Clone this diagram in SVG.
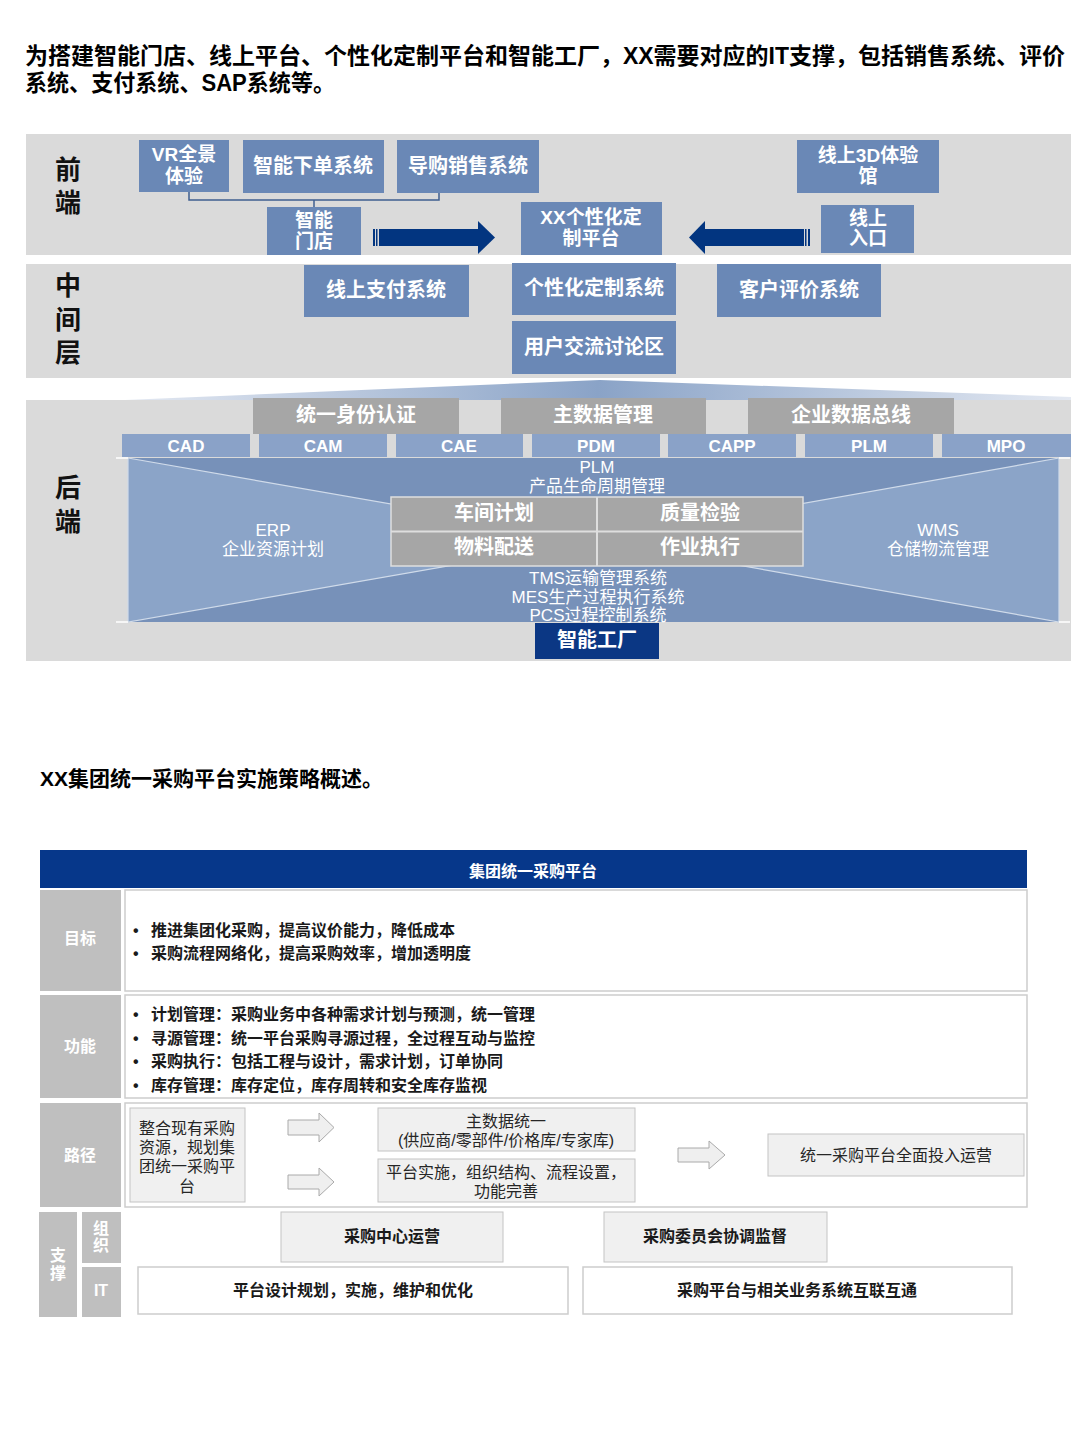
<svg xmlns="http://www.w3.org/2000/svg" width="1080" height="1440" viewBox="0 0 1080 1440">
<defs>
<style>
text{font-family:'Liberation Sans','Noto Sans CJK SC',sans-serif;}
.band{fill:#dadada;}
.nb{fill:#6a88b6;}
.wt{fill:#ffffff;font-weight:bold;text-anchor:middle;dominant-baseline:central;font-size:20px;}
.wt19{fill:#ffffff;font-weight:bold;text-anchor:middle;dominant-baseline:central;font-size:19px;}
.side{fill:#111;font-weight:bold;text-anchor:middle;dominant-baseline:central;font-size:26px;}
.hdr{fill:#a6a6a6;}
.sm{fill:#8aa2c8;}
.smt{fill:#fff;font-weight:bold;text-anchor:middle;dominant-baseline:central;font-size:17px;}
.lt{fill:#fff;text-anchor:middle;dominant-baseline:central;font-size:17px;}
.arr{fill:#023580;}
.lab{fill:#bfbfbf;}
.labt{fill:#fff;font-weight:bold;text-anchor:middle;dominant-baseline:central;font-size:16px;}
.cell{fill:#fff;stroke:#cdcdcd;stroke-width:1.5;}
.gbox{fill:#f0f0f0;stroke:#c4c4c4;stroke-width:1;}
.tb{fill:#1a1a1a;font-weight:bold;font-size:16px;dominant-baseline:central;}
.tr{fill:#262626;font-size:16px;text-anchor:middle;dominant-baseline:central;}
.tbc{fill:#1a1a1a;font-weight:bold;font-size:16px;text-anchor:middle;dominant-baseline:central;}
.garr{fill:#efefef;stroke:#aaaaaa;stroke-width:1;}
</style>
<linearGradient id="roof" x1="0" y1="0" x2="1" y2="0">
<stop offset="0" stop-color="#e4e9f2"/>
<stop offset="0.5" stop-color="#8aa3c7"/>
<stop offset="1" stop-color="#e4e9f2"/>
</linearGradient>
</defs>
<rect width="1080" height="1440" fill="#ffffff"/>

<g id="title">
<text x="25" y="64" font-size="23" font-weight="bold" fill="#000" textLength="1040" lengthAdjust="spacingAndGlyphs">为搭建智能门店、线上平台、个性化定制平台和智能工厂，XX需要对应的IT支撑，包括销售系统、评价</text>
<text x="25" y="91" font-size="23" font-weight="bold" fill="#000" textLength="310" lengthAdjust="spacingAndGlyphs">系统、支付系统、SAP系统等。</text>
</g>

<g id="bands">
<rect class="band" x="26" y="134" width="1045" height="121"/>
<rect class="band" x="26" y="264" width="1045" height="114"/>
<polygon points="125,400 600,380 1071,397 1071,400" fill="url(#roof)"/>
<rect class="band" x="26" y="400" width="1045" height="261"/>
<text class="side" x="68" y="170">前</text>
<text class="side" x="68" y="203">端</text>
<text class="side" x="68" y="286">中</text>
<text class="side" x="68" y="320">间</text>
<text class="side" x="68" y="353">层</text>
<text class="side" x="68" y="488">后</text>
<text class="side" x="68" y="522">端</text>
</g>

<g id="node-vr"><rect class="nb" x="139" y="140" width="90" height="52"/><text class="wt19" x="184" y="154">VR全景</text><text class="wt19" x="184" y="176">体验</text></g>
<g id="node-order"><rect class="nb" x="243" y="140" width="141" height="53"/><text class="wt" x="313" y="166">智能下单系统</text></g>
<g id="node-guide"><rect class="nb" x="397" y="140" width="142" height="53"/><text class="wt" x="468" y="166">导购销售系统</text></g>
<g id="node-store"><rect class="nb" x="267" y="207" width="94" height="48"/><text class="wt19" x="314" y="220">智能</text><text class="wt19" x="314" y="241">门店</text></g>
<g id="node-platform"><rect class="nb" x="521" y="202" width="141" height="53"/><text class="wt19" x="591" y="217">XX个性化定</text><text class="wt19" x="591" y="238">制平台</text></g>
<g id="node-3d"><rect class="nb" x="797" y="140" width="142" height="53"/><text class="wt19" x="868" y="155">线上3D体验</text><text class="wt19" x="868" y="176">馆</text></g>
<g id="node-entry"><rect class="nb" x="821" y="205" width="93" height="48"/><text class="wt19" x="868" y="218">线上</text><text class="wt19" x="868" y="238">入口</text></g>

<g id="node-pay"><rect class="nb" x="304" y="265" width="165" height="52"/><text class="wt" x="386" y="290">线上支付系统</text></g>
<g id="node-custom"><rect class="nb" x="512" y="263" width="164" height="52"/><text class="wt" x="594" y="288">个性化定制系统</text></g>
<g id="node-forum"><rect class="nb" x="512" y="321" width="164" height="53"/><text class="wt" x="594" y="347">用户交流讨论区</text></g>
<g id="node-review"><rect class="nb" x="717" y="264" width="164" height="53"/><text class="wt" x="799" y="290">客户评价系统</text></g>

<g id="connectors">
<polyline points="189,192 189,200 439,200 439,193" fill="none" stroke="#3f5f90" stroke-width="1.5"/>
<line x1="314" y1="200" x2="314" y2="207" stroke="#3f5f90" stroke-width="1.5"/>
<rect class="arr" x="373" y="229" width="2" height="17"/>
<rect class="arr" x="376" y="229" width="1.5" height="17"/>
<rect class="arr" x="379" y="229" width="100" height="17"/>
<polygon class="arr" points="478,221 495,237.5 478,254"/>
<rect class="arr" x="808" y="229" width="2" height="17"/>
<rect class="arr" x="805" y="229" width="1.5" height="17"/>
<rect class="arr" x="704" y="229" width="100" height="17"/>
<polygon class="arr" points="705,221 689,237.5 705,254"/>
</g>

<g id="node-idauth"><rect class="hdr" x="253" y="398" width="206" height="36"/><text class="wt" x="356" y="415">统一身份认证</text></g>
<g id="node-mdm"><rect class="hdr" x="501" y="398" width="205" height="36"/><text class="wt" x="603" y="415">主数据管理</text></g>
<g id="node-esb"><rect class="hdr" x="748" y="398" width="206" height="36"/><text class="wt" x="851" y="415">企业数据总线</text></g>

<g id="node-cad"><rect class="sm" x="122" y="434" width="128" height="23"/><text class="smt" x="186" y="446">CAD</text></g>
<g id="node-cam"><rect class="sm" x="259" y="434" width="128" height="23"/><text class="smt" x="323" y="446">CAM</text></g>
<g id="node-cae"><rect class="sm" x="396" y="434" width="127" height="23"/><text class="smt" x="459" y="446">CAE</text></g>
<g id="node-pdm"><rect class="sm" x="532" y="434" width="128" height="23"/><text class="smt" x="596" y="446">PDM</text></g>
<g id="node-capp"><rect class="sm" x="668" y="434" width="128" height="23"/><text class="smt" x="732" y="446">CAPP</text></g>
<g id="node-plm"><rect class="sm" x="805" y="434" width="128" height="23"/><text class="smt" x="869" y="446">PLM</text></g>
<g id="node-mpo"><rect class="sm" x="942" y="434" width="129" height="23"/><text class="smt" x="1006" y="446">MPO</text></g>

<g id="node-factory-diagram">
<rect x="128" y="458" width="931" height="164" fill="#7791b9"/>
<polygon points="128,458 597,540 128,622" fill="#8ba4c8" stroke="#d0dbea" stroke-width="1.2"/>
<polygon points="1059,458 597,540 1059,622" fill="#8ba4c8" stroke="#d0dbea" stroke-width="1.2"/>
<line x1="116" y1="458" x2="128" y2="458" stroke="#fff" stroke-width="1.5"/>
<line x1="116" y1="622" x2="128" y2="622" stroke="#fff" stroke-width="1.5"/>
<line x1="1059" y1="458" x2="1070" y2="458" stroke="#fff" stroke-width="1.5"/>
<line x1="1059" y1="622" x2="1070" y2="622" stroke="#fff" stroke-width="1.5"/>
<text class="lt" x="597" y="467">PLM</text>
<text class="lt" x="597" y="486">产品生命周期管理</text>
<text class="lt" x="273" y="530">ERP</text>
<text class="lt" x="273" y="549">企业资源计划</text>
<text class="lt" x="938" y="530">WMS</text>
<text class="lt" x="938" y="549">仓储物流管理</text>
<text class="lt" x="598" y="578">TMS运输管理系统</text>
<text class="lt" x="598" y="597">MES生产过程执行系统</text>
<text class="lt" x="598" y="615">PCS过程控制系统</text>
</g>

<g id="node-grid">
<rect x="391" y="497" width="412" height="69" fill="#a6a6a6" stroke="#dedede" stroke-width="1.5"/>
<line x1="597" y1="497" x2="597" y2="566" stroke="#dedede" stroke-width="2"/>
<line x1="391" y1="531.5" x2="803" y2="531.5" stroke="#dedede" stroke-width="2"/>
<text class="wt" x="494" y="513">车间计划</text>
<text class="wt" x="700" y="513">质量检验</text>
<text class="wt" x="494" y="547">物料配送</text>
<text class="wt" x="700" y="547">作业执行</text>
</g>

<g id="node-smartfactory"><rect x="535" y="623" width="124" height="36" fill="#0b3784"/><text class="wt" x="597" y="640">智能工厂</text></g>

<g id="title2">
<text x="40" y="786" font-size="21" font-weight="bold" fill="#000">XX集团统一采购平台实施策略概述。</text>
</g>

<g id="table-header"><rect x="40" y="850" width="987" height="38" fill="#06378a"/><text class="labt" x="533" y="871">集团统一采购平台</text></g>

<g id="row-goal">
<rect class="lab" x="40" y="890" width="81" height="101"/><text class="labt" x="80" y="938">目标</text>
<rect class="cell" x="125" y="890" width="902" height="101"/>
<text class="tb" x="133" y="930">•</text><text class="tb" x="151" y="930">推进集团化采购，提高议价能力，降低成本</text>
<text class="tb" x="133" y="953">•</text><text class="tb" x="151" y="953">采购流程网络化，提高采购效率，增加透明度</text>
</g>

<g id="row-func">
<rect class="lab" x="40" y="995" width="81" height="103"/><text class="labt" x="80" y="1046">功能</text>
<rect class="cell" x="125" y="995" width="902" height="103"/>
<text class="tb" x="133" y="1014">•</text><text class="tb" x="151" y="1014">计划管理：采购业务中各种需求计划与预测，统一管理</text>
<text class="tb" x="133" y="1038">•</text><text class="tb" x="151" y="1038">寻源管理：统一平台采购寻源过程，全过程互动与监控</text>
<text class="tb" x="133" y="1061">•</text><text class="tb" x="151" y="1061">采购执行：包括工程与设计，需求计划，订单协同</text>
<text class="tb" x="133" y="1085">•</text><text class="tb" x="151" y="1085">库存管理：库存定位，库存周转和安全库存监视</text>
</g>

<g id="row-path">
<rect class="lab" x="40" y="1103" width="81" height="104"/><text class="labt" x="80" y="1155">路径</text>
<rect class="cell" x="125" y="1103" width="902" height="104"/>
</g>
<g id="node-integrate"><rect class="gbox" x="130" y="1108" width="115" height="94"/>
<text class="tr" x="187" y="1128">整合现有采购</text><text class="tr" x="187" y="1147">资源，规划集</text><text class="tr" x="187" y="1166">团统一采购平</text><text class="tr" x="187" y="1186">台</text></g>
<g id="node-master"><rect class="gbox" x="378" y="1108" width="257" height="43"/>
<text class="tr" x="506" y="1121">主数据统一</text><text class="tr" x="506" y="1140">(供应商/零部件/价格库/专家库)</text></g>
<g id="node-impl"><rect class="gbox" x="378" y="1159" width="257" height="43"/>
<text class="tr" x="506" y="1172">平台实施，组织结构、流程设置，</text><text class="tr" x="506" y="1191">功能完善</text></g>
<g id="node-operate"><rect class="gbox" x="768" y="1134" width="256" height="42"/>
<text class="tr" x="896" y="1155">统一采购平台全面投入运营</text></g>

<g id="path-arrows">
<polygon class="garr" points="288,1120 319,1120 319,1113 334,1127.5 319,1142 319,1135 288,1135"/>
<polygon class="garr" points="288,1175 319,1175 319,1168 334,1182 319,1196 319,1189 288,1189"/>
<polygon class="garr" points="678,1148 709,1148 709,1141 725,1155 709,1169 709,1162 678,1162"/>
</g>

<g id="row-support">
<rect class="lab" x="39" y="1212" width="38" height="105"/>
<text class="labt" x="58" y="1255">支</text><text class="labt" x="58" y="1273">撑</text>
<rect class="lab" x="82" y="1212" width="39" height="51"/>
<text class="labt" x="101" y="1228">组</text><text class="labt" x="101" y="1245">织</text>
<rect class="lab" x="82" y="1267" width="39" height="50"/>
<text class="labt" x="101" y="1290">IT</text>
</g>
<g id="node-center"><rect class="gbox" x="281" y="1212" width="222" height="50"/><text class="tbc" x="392" y="1236">采购中心运营</text></g>
<g id="node-committee"><rect class="gbox" x="604" y="1212" width="223" height="50"/><text class="tbc" x="715" y="1236">采购委员会协调监督</text></g>
<g id="node-design"><rect class="cell" x="138" y="1267" width="430" height="47" stroke-width="1.2"/><text class="tbc" x="353" y="1290">平台设计规划，实施，维护和优化</text></g>
<g id="node-interconnect"><rect class="cell" x="583" y="1267" width="429" height="47" stroke-width="1.2"/><text class="tbc" x="797" y="1290">采购平台与相关业务系统互联互通</text></g>
</svg>
